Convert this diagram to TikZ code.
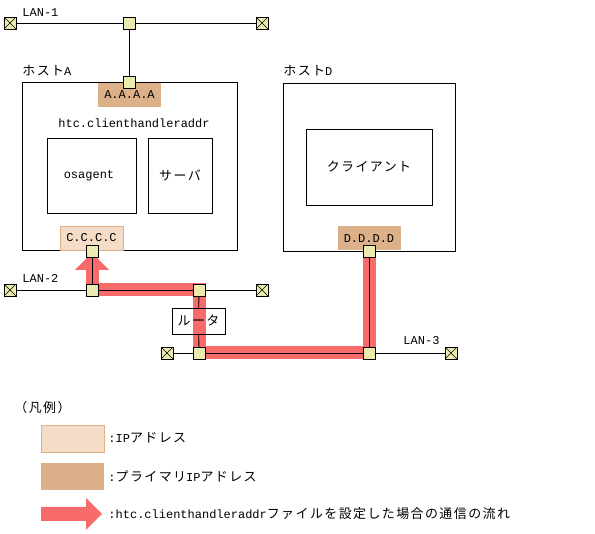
\documentclass[tikz,border=0pt]{standalone}
\usepackage{fontspec}
\setmainfont{Liberation Mono}
\newfontfamily\jp[Scale=1.08,LetterSpace=11]{Noto Sans CJK JP}
\usetikzlibrary{arrows,positioning,shapes,backgrounds}

\definecolor{portfill}{HTML}{EBEBB0}
\definecolor{primfill}{HTML}{DCB088}
\definecolor{addrfill}{HTML}{F5DCC6}
\definecolor{flowred}{HTML}{F76B6B}

\begin{document}
\begin{tikzpicture}[x=1pt,y=-1pt,line width=0.9pt,font=\fontsize{12}{14}\selectfont]
\tikzstyle{port}=[draw,fill=portfill,minimum size=12pt,inner sep=0pt]
\tikzstyle{term}=[port,path picture={\draw[line width=0.6pt] (path picture bounding box.south west) -- (path picture bounding box.north east) (path picture bounding box.north west) -- (path picture bounding box.south east);}]
\tikzstyle{box}=[draw,inner sep=0pt]
\tikzstyle{prim}=[fill=primfill,inner sep=0pt,minimum width=63pt,minimum height=24pt]
\tikzstyle{addr}=[draw=primfill,fill=addrfill,inner sep=0pt,minimum width=63pt,minimum height=24pt]
\tikzstyle{lbl}=[inner sep=0pt,anchor=west]

\useasboundingbox (0,0) rectangle (595,534);

% hosts
\node[box,minimum width=215pt,minimum height=168pt] (hostA) at (129.5,166) {};
\node[box,minimum width=172pt,minimum height=168pt] (hostD) at (369,167) {};
\node[lbl] (labA) at (22,71) {{\jp ホスト}A};
\node[lbl] (labD) at (283,71) {{\jp ホスト}D};

\node[prim] (ipA) at (129.5,95) {A.A.A.A};
\node (htc) at (134,123) {htc.clienthandleraddr};
\node[box,minimum width=89pt,minimum height=75pt] (osa) at (91.5,175.5) {};
\node at (89,176) {osagent};
\node[box,minimum width=64pt,minimum height=75pt] (srv) at (180,175.5) {{\jp サーバ}};
\node[addr] (ipC) at (91.5,238) {C.C.C.C};

\node[box,minimum width=126pt,minimum height=76pt] (cli) at (369,167) {{\jp クライアント}};
\node[prim] (ipD) at (369,238.5) {D.D.D.D};

% LANs
\node[lbl] (lan1) at (22,13) {LAN-1};
\node[lbl] (lan2) at (22,278) {LAN-2};
\node[lbl] (lan3) at (403,341) {LAN-3};

\node[term] (t1a) at (10,23) {};
\node[port] (p1)  at (129,23) {};
\node[term] (t1b) at (262,23) {};
\node[port] (pA)  at (129,82) {};

\node[port] (pC)  at (92,251) {};
\node[term] (t2a) at (10,290) {};
\node[port] (p2a) at (92,290) {};
\node[port] (p2b) at (199,290) {};
\node[term] (t2b) at (262,290) {};
\node[box,minimum width=53pt,minimum height=26pt] (rtr) at (198.5,321) {{\jp ルータ}};

\node[term] (t3a) at (167,353) {};
\node[port] (p3a) at (199,353) {};
\node[port] (p3b) at (369,353) {};
\node[term] (t3b) at (451,353) {};
\node[port] (pD)  at (369,251) {};

% flow
\begin{scope}[on background layer]
\draw[flowred,line width=13pt] (pD.center) -- (p3b.center) -- (p3a.center) -- (p2b.center) -- (p2a.center) -- ++(0,-20);
\fill[flowred] (75,270) -- (109,270) -- (92,253) -- cycle;
\end{scope}

\path[-]
(t1a) edge (p1)
(p1) edge (t1b)
(p1) edge (pA)
(pC) edge (p2a)
(t2a) edge (p2a)
(p2a) edge (p2b)
(p2b) edge (t2b)
(p2b) edge (rtr)
(rtr) edge (p3a)
(t3a) edge (p3a)
(p3a) edge (p3b)
(p3b) edge (t3b)
(p3b) edge (pD);

% legend
\node[lbl] (leg) at (14,408) {{\jp （凡例）}};
\node[addr,minimum height=27pt,anchor=north west] (legC) at (41,425) {};
\node[lbl] at (108,437.5) {:IP{\jp アドレス}};
\node[prim,minimum height=27pt,anchor=north west] (legP) at (41,463) {};
\node[lbl] at (108,476) {:{\jp プライマリ}IP{\jp アドレス}};
\fill[flowred] (41,507) -- (86,507) -- (86,498) -- (102,514) -- (86,530) -- (86,521) -- (41,521) -- cycle;
\node[lbl] at (108,514) {:htc.clienthandleraddr{\jp ファイルを設定した場合の通信の流れ}};
\end{tikzpicture}
\end{document}
